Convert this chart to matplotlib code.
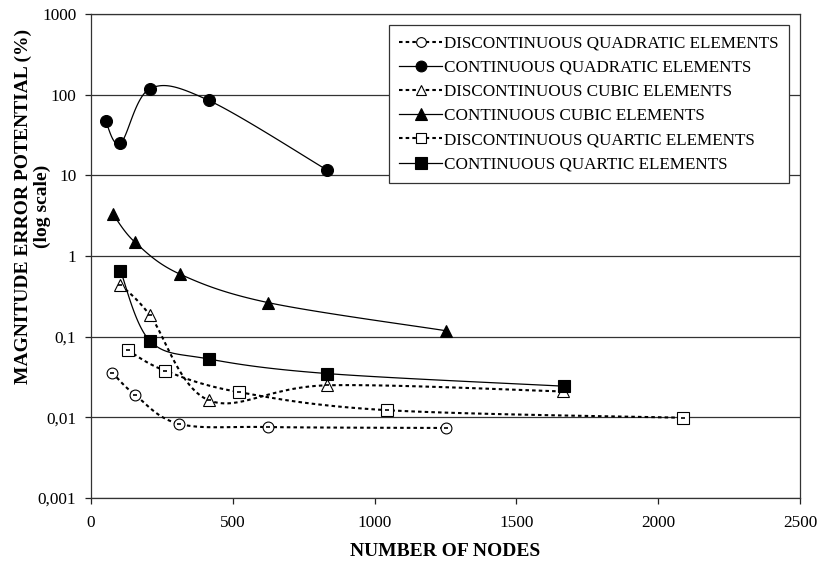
import numpy as np
import matplotlib
matplotlib.use("Agg")
import matplotlib.pyplot as plt
from matplotlib.ticker import FixedLocator, NullLocator

plt.rcParams['font.family'] = ['Liberation Serif', 'DejaVu Serif']

# values
disc_quad_x = [75, 156, 312, 625, 1250]
disc_quad_y = [0.036, 0.019, 0.0083, 0.0076, 0.0074]
cont_quad_x = [52, 104, 208, 416, 832]
cont_quad_y = [47, 25, 119, 85, 11.7]
disc_cub_x = [104, 208, 416, 832, 1664]
disc_cub_y = [0.44, 0.185, 0.0163, 0.025, 0.021]
cont_cub_x = [78, 156, 313, 625, 1250]
cont_cub_y = [3.3, 1.48, 0.6, 0.265, 0.119]
disc_quart_x = [130, 261, 522, 1044, 2088]
disc_quart_y = [0.068, 0.038, 0.0206, 0.0123, 0.0099]
cont_quart_x = [104, 208, 416, 832, 1666]
cont_quart_y = [0.66, 0.089, 0.053, 0.035, 0.0244]

labels = ['DISCONTINUOUS QUADRATIC ELEMENTS', 'CONTINUOUS QUADRATIC ELEMENTS',
          'DISCONTINUOUS CUBIC ELEMENTS', 'CONTINUOUS CUBIC ELEMENTS',
          'DISCONTINUOUS QUARTIC ELEMENTS', 'CONTINUOUS QUARTIC ELEMENTS']

y_ticks = [0.001, 0.01, 0.1, 1, 10, 100, 1000]
y_tick_labels = ['0,001', '0,01', '0,1', '1', '10', '100', '1000']
x_ticks = [0, 500, 1000, 1500, 2000, 2500]

W, H = 709.0, 484.0  # axes size in px, so the smoothing behaves like excel's


def smooth(xs, ys, n=30):
    # catmull-rom style bezier in screen-like space (x linear, y log)
    X = np.array(xs, float) / 2500 * W
    Y = (np.log10(ys) + 3) / 6 * H
    P = np.column_stack([X, Y])
    out = []
    for i in range(len(P) - 1):
        p0 = P[i - 1] if i > 0 else P[i]
        p1, p2 = P[i], P[i + 1]
        p3 = P[i + 2] if i + 2 < len(P) else P[i + 1]
        c1 = p1 + (p2 - p0) / 6
        c2 = p2 - (p3 - p1) / 6
        t = np.linspace(0, 1, n)[:, None]
        seg = (1 - t) ** 3 * p1 + 3 * (1 - t) ** 2 * t * c1 + 3 * (1 - t) * t ** 2 * c2 + t ** 3 * p2
        out.append(seg if i == 0 else seg[1:])
    out = np.vstack(out)
    return out[:, 0] / W * 2500, 10 ** (out[:, 1] / H * 6 - 3)


fig = plt.figure(figsize=(8.19, 5.66), dpi=100)
ax = fig.add_axes([0.111, 0.12, 0.866, 0.855])

dotted = (0, (1.7, 1.5))
series = [
    (disc_quad_x, disc_quad_y, 'o', 'white', dotted, 1.5, 7.8),
    (cont_quad_x, cont_quad_y, 'o', 'black', '-', 0.9, 8.6),
    (disc_cub_x, disc_cub_y, '^', 'white', dotted, 1.5, 8.2),
    (cont_cub_x, cont_cub_y, '^', 'black', '-', 0.9, 8.8),
    (disc_quart_x, disc_quart_y, 's', 'white', dotted, 1.5, 8.2),
    (cont_quart_x, cont_quart_y, 's', 'black', '-', 0.9, 8.8),
]

handles = []
for (xs, ys, m, fc, ls, lw, ms), lab in zip(series, labels):
    sx, sy = smooth(xs, ys)
    ax.plot(sx, sy, color='black', linestyle=ls, linewidth=lw, zorder=3)
    ax.plot(xs, ys, linestyle='none', marker=m, markersize=ms,
            markerfacecolor=fc, markeredgecolor='black', markeredgewidth=0.8, zorder=4)
    if fc == 'white':
        # little dash inside the hollow markers, like the original
        ax.plot(xs, ys, linestyle='none', marker='_', markersize=3,
                markeredgewidth=1.2, color='black', zorder=5)
    h, = ax.plot([], [], color='black', linestyle=ls, linewidth=lw, marker=m,
                 markersize=ms * 0.9, markerfacecolor=fc, markeredgecolor='black',
                 markeredgewidth=0.8, label=lab)
    handles.append(h)

ax.set_yscale('log')
ax.set_ylim(0.001, 1000)
ax.set_xlim(0, 2500)
ax.yaxis.set_major_locator(FixedLocator(y_ticks))
ax.yaxis.set_minor_locator(NullLocator())
ax.set_yticklabels(y_tick_labels)
ax.set_xticks(x_ticks)
ax.tick_params(axis='both', direction='out', length=4.5, width=0.9, labelsize=12.4,
               color='#222222')
ax.tick_params(axis='y', pad=6)
ax.tick_params(axis='x', pad=8)
ax.grid(axis='y', color='#333333', linewidth=0.9)
for s in ax.spines.values():
    s.set_color('#333333')
    s.set_linewidth(0.9)

ax.set_xlabel('NUMBER OF NODES', fontsize=14, fontweight='bold')
ax.xaxis.set_label_coords(0.5, -0.093)
ax.set_ylabel('MAGNITUDE ERROR POTENTIAL (%)\n(log scale)', fontsize=14,
              fontweight='bold', linespacing=1.15)
ax.yaxis.set_label_coords(-0.056, 0.603)

leg = ax.legend(handles=handles, loc='upper right', bbox_to_anchor=(0.9845, 0.977),
                fontsize=12.3, frameon=True, fancybox=False, framealpha=1,
                edgecolor='#333333', borderpad=0.6, labelspacing=0.48,
                handlelength=2.5, handletextpad=0.15, borderaxespad=0)
leg.get_frame().set_linewidth(0.9)

fig.savefig('out.png', dpi=100)
